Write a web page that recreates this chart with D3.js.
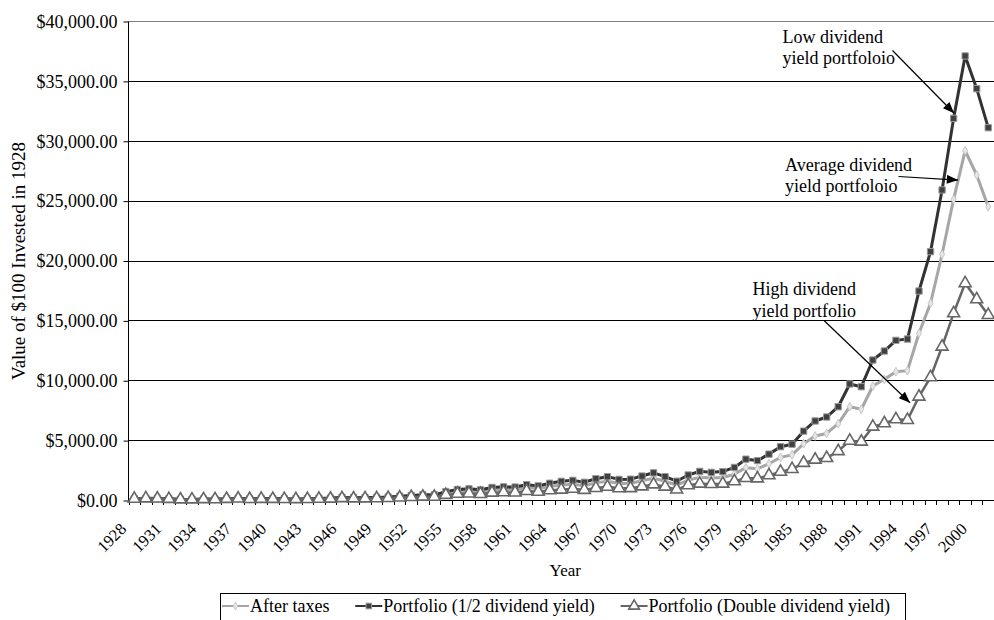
<!DOCTYPE html>
<html>
<head>
<meta charset="utf-8">
<script src="https://cdn.jsdelivr.net/npm/d3@7/dist/d3.min.js"></script>
<style>
  html, body { margin: 0; padding: 0; background: #fff; }
  svg { display: block; font-family: "Liberation Serif", "Times New Roman", serif; }
</style>
</head>
<body>
<svg id="chart" width="994" height="620"></svg>
<script>
// Years on the category axis
const years = [1928,1929,1930,1931,1932,1933,1934,1935,1936,1937,1938,1939,1940,1941,1942,1943,1944,1945,1946,1947,
  1948,1949,1950,1951,1952,1953,1954,1955,1956,1957,1958,1959,1960,1961,1962,1963,1964,1965,1966,1967,
  1968,1969,1970,1971,1972,1973,1974,1975,1976,1977,1978,1979,1980,1981,1982,1983,1984,1985,1986,1987,
  1988,1989,1990,1991,1992,1993,1994,1995,1996,1997,1998,1999,2000,2001,2002];

// Labelled years (every third year)
const yearLabels = [1928,1931,1934,1937,1940,1943,1946,1949,1952,1955,1958,1961,1964,1967,1970,1973,1976,1979,1982,1985,1988,1991,1994,1997,2000];

// Value axis ticks
const valueTicks = [0,5000,10000,15000,20000,25000,30000,35000,40000];

// Value of $100 invested in 1928 — after taxes
const afterTaxes = [100,138,123,92,53,50,74,71,103,134,87,109,106,94,82,95,115,137,185,167,
  170,175,205,262,315,362,352,565,710,745,680,840,885,870,1040,955,1130,1260,1320,1190,
  1430,1560,1380,1395,1600,1810,1560,1250,1660,1900,1830,1870,2150,2700,2600,3030,3560,3770,4700,5350,
  5560,6370,7790,7580,9520,10080,10720,10800,13920,16430,20520,25110,29170,27140,24490];

// Portfolio with half the dividend yield (low dividend yield)
const halfYield = [100,140,125,95,55,52,78,75,110,145,95,120,118,105,92,108,132,158,215,195,
  200,208,245,315,380,440,430,700,880,930,850,1050,1100,1080,1280,1180,1400,1560,1640,1480,
  1780,1950,1720,1740,2000,2270,1950,1570,2090,2390,2310,2370,2720,3410,3290,3830,4450,4660,5750,6600,
  6930,7790,9690,9460,11690,12440,13330,13440,17450,20740,25890,31870,37080,34350,31090];

// Portfolio with double the dividend yield (high dividend yield)
const doubleYield = [100,136,121,89,50,47,68,65,92,118,76,94,90,79,69,79,95,112,150,134,
  135,139,161,204,243,277,267,420,520,545,495,610,640,625,750,690,810,860,930,840,
  1000,1100,980,990,1130,1300,1110,870,1230,1360,1330,1360,1560,1830,1800,2060,2360,2580,3100,3370,
  3500,4080,4950,4870,6120,6400,6740,6680,8630,10250,12800,15590,18100,16760,15450];

const seriesNames = ["After taxes", "Portfolio (1/2 dividend yield)", "Portfolio (Double dividend yield)"];

(function draw() {
  const svg = d3.select("#chart");
  const pl = 128.5, pr = 994, pt = 21, pb = 500;

  const x = d3.scalePoint().domain(years).range([pl, pr]).padding(0.5);
  const y = d3.scaleLinear().domain([0, 40000]).range([pb, pt]);
  const fmt = d3.format("$,.2f");

  // Horizontal gridlines
  svg.append("g").selectAll("line").data(valueTicks.slice(1)).join("line")
    .attr("x1", pl).attr("x2", pr)
    .attr("y1", d => Math.round(y(d)) + 0.5).attr("y2", d => Math.round(y(d)) + 0.5)
    .attr("stroke", d => d === 40000 ? "#808080" : "#000").attr("stroke-width", 1);

  // Value axis
  const yAxis = svg.append("g").attr("transform", `translate(${pl},0.5)`)
    .call(d3.axisLeft(y).tickValues(valueTicks).tickFormat(fmt).tickSize(5).tickPadding(6));
  yAxis.select(".domain").attr("stroke", "#000").attr("d", `M0,${y(40000)}V${y(0)}`);
  yAxis.selectAll(".tick line").attr("stroke", "#000");
  yAxis.selectAll("text").attr("font-size", 18).attr("fill", "#000")
    .attr("font-family", "Liberation Serif");

  // Category axis line
  svg.append("line").attr("x1", pl).attr("x2", pr)
    .attr("y1", pb + 0.5).attr("y2", pb + 0.5).attr("stroke", "#000");

  // Category boundary ticks
  const step = x.step();
  svg.append("g").selectAll("line").data(d3.range(years.length + 1)).join("line")
    .attr("x1", i => Math.round(pl + i * step) + 0.5)
    .attr("x2", i => Math.round(pl + i * step) + 0.5)
    .attr("y1", pb).attr("y2", pb + 5).attr("stroke", "#000");

  // Year labels, rotated; label run is slightly wider than the category run
  const lx0 = yearLabels[0], lx1 = yearLabels[yearLabels.length - 1];
  const labelX = d3.scaleLinear().domain([lx0, lx1]).range([x(lx0) - 7, x(lx1) + 3]);
  svg.append("g").selectAll("text").data(yearLabels).join("text")
    .attr("transform", d => `translate(${labelX(d)},${pb + 30}) rotate(-45)`)
    .attr("text-anchor", "end").attr("font-size", 16.5).attr("fill", "#000")
    .text(d => d);

  // Axis titles
  svg.append("text").attr("x", (pl + pr) / 2 + 4).attr("y", 576)
    .attr("text-anchor", "middle").attr("font-size", 17).text("Year");
  svg.append("text").attr("transform", `translate(25,261) rotate(-90)`)
    .attr("text-anchor", "middle").attr("font-size", 19).text("Value of $100 Invested in 1928");

  // Series styles and marker shapes
  const styles = [
    { data: afterTaxes, line: "#a6a6a6", width: 3, symbol: d3.symbolDiamond, size: 22, fill: "#e6e6e6", stroke: "#c8c8c8", sw: 1 },
    { data: halfYield, line: "#333333", width: 3, symbol: d3.symbolSquare, size: 40, fill: "#404040", stroke: "#9a9a9a", sw: 1 },
    { data: doubleYield, line: "#666666", width: 2.5, symbol: d3.symbolTriangle, size: 62, fill: "#ffffff", stroke: "#666666", sw: 1.6 }
  ];

  const lineGen = d3.line().x((d, i) => x(years[i])).y(d => y(d));

  styles.forEach(s => {
    const g = svg.append("g");
    g.append("path").datum(s.data).attr("d", lineGen)
      .attr("fill", "none").attr("stroke", s.line).attr("stroke-width", s.width)
      .attr("stroke-linejoin", "round");
    g.selectAll("path.pt").data(s.data).join("path").attr("class", "pt")
      .attr("transform", (d, i) => `translate(${x(years[i])},${y(d)})`)
      .attr("d", d3.symbol().type(s.symbol).size(s.size))
      .attr("fill", s.fill).attr("stroke", s.stroke).attr("stroke-width", s.sw);
  });

  // Annotations with arrows
  const defs = svg.append("defs");
  defs.append("marker").attr("id", "arrow").attr("viewBox", "0 0 10 8")
    .attr("refX", 10).attr("refY", 4).attr("markerWidth", 12).attr("markerHeight", 9)
    .attr("markerUnits", "userSpaceOnUse").attr("orient", "auto")
    .append("path").attr("d", "M0,0L10,4L0,8Z").attr("fill", "#000");

  const notes = [
    { lines: ["Low dividend", "yield portfoloio"], tx: 782.5, ty: 42.5, from: [892.5, 50.5], year: 1999, dx: 0.5, value: 32300 },
    { lines: ["Average dividend", "yield portfoloio"], tx: 785, ty: 170.5, from: [898.5, 176.5], year: 1999, dx: 4.5, value: 26720 },
    { lines: ["High dividend", "yield portfolio"], tx: 752.5, ty: 295, from: [824, 320.5], year: 1995, dx: 2.5, value: 8120 }
  ];
  notes.forEach(n => {
    const t = svg.append("text").attr("x", n.tx).attr("y", n.ty).attr("font-size", 18).attr("fill", "#000");
    n.lines.forEach((l, i) => t.append("tspan").attr("x", n.tx).attr("dy", i === 0 ? 0 : 21.5).text(l));
    svg.append("line")
      .attr("x1", n.from[0]).attr("y1", n.from[1])
      .attr("x2", x(n.year) + n.dx).attr("y2", y(n.value))
      .attr("stroke", "#000").attr("stroke-width", 1.2).attr("marker-end", "url(#arrow)");
  });

  // Legend: entries spread across a box centred under the plot
  const legLeft = 220.5, legRight = 905.5, legFont = 18, sample = 27;
  const legend = svg.append("g");
  legend.append("rect").attr("x", legLeft).attr("y", 593.5)
    .attr("width", legRight - legLeft).attr("height", 40).attr("fill", "#fff").attr("stroke", "#000");
  const texts = seriesNames.map(nm => legend.append("text").attr("y", 612)
    .attr("font-size", legFont).text(nm));
  const widths = texts.map(t => t.node().getComputedTextLength());
  const used = d3.sum(widths) + styles.length * (sample + 1);
  const gap = (legRight - legLeft - 4 - used) / (styles.length - 1 + 0.5);
  let lx = legLeft + 1.5;
  styles.forEach((s, i) => {
    legend.append("line").attr("x1", lx).attr("x2", lx + sample).attr("y1", 606).attr("y2", 606)
      .attr("stroke", s.line).attr("stroke-width", 2);
    legend.append("path").attr("transform", `translate(${lx + sample / 2},606)`)
      .attr("d", d3.symbol().type(s.symbol).size(s.size * 0.8))
      .attr("fill", s.fill).attr("stroke", s.stroke).attr("stroke-width", s.sw);
    texts[i].attr("x", lx + sample + 1);
    lx += sample + 1 + widths[i] + gap;
  });
})();
</script>
</body>
</html>
